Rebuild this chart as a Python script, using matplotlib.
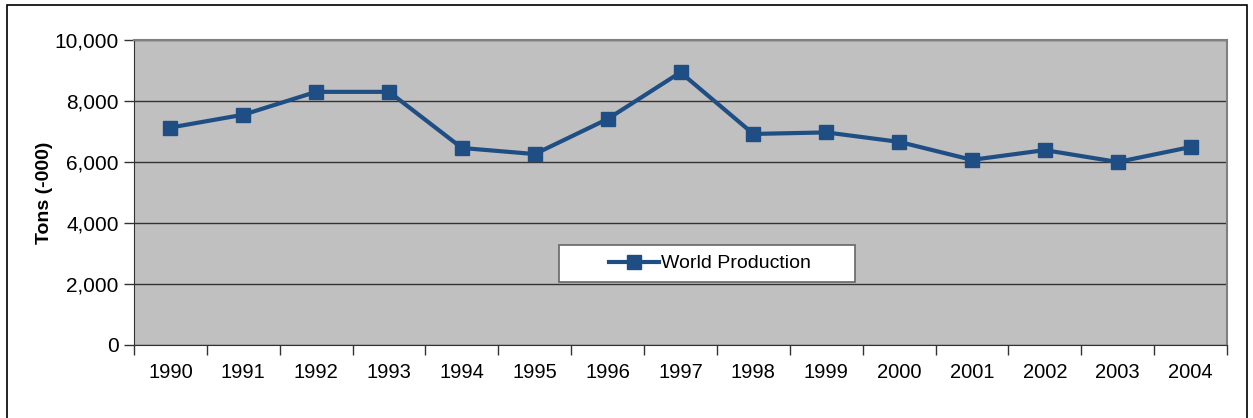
import matplotlib.pyplot as plt
from matplotlib.patches import Rectangle
from matplotlib.ticker import FuncFormatter, FixedLocator

plt.rcParams['font.family'] = ['Liberation Sans', 'DejaVu Sans']

# Données
years = ["1990", "1991", "1992", "1993", "1994", "1995", "1996", "1997",
         "1998", "1999", "2000", "2001", "2002", "2003", "2004"]
production = [7130, 7550, 8300, 8300, 6460, 6260, 7410, 8940,
              6920, 6970, 6660, 6070, 6390, 6000, 6490]

W, H = 1253, 418
fig = plt.figure(figsize=(W / 100, H / 100), dpi=100)
ax = fig.add_axes([134 / W, 1 - 345 / H, (1227 - 134) / W, (345 - 40) / H])

ax.set_facecolor('#C0C0C0')
x = list(range(len(years)))
ax.plot(x, production, color='#1F4E85', linewidth=3, marker='s',
        markersize=10, markerfacecolor='#1F4E85', markeredgecolor='#1F4E85',
        label='World Production', zorder=3)

ax.set_xlim(-0.5, len(years) - 0.5)
ax.set_ylim(0, 10000)
ax.set_yticks(range(0, 10001, 2000))
ax.yaxis.set_major_formatter(FuncFormatter(lambda v, p: f"{int(v):,}"))
ax.grid(axis='y', color='#333333', linewidth=1)
ax.set_axisbelow(True)

# Étiquettes au centre des catégories, graduations entre les catégories
ax.set_xticks(x)
ax.set_xticklabels(years)
ax.xaxis.set_minor_locator(FixedLocator([i - 0.5 for i in range(len(years) + 1)]))
ax.tick_params(axis='x', which='major', length=0, pad=13, labelsize=14.5)
ax.tick_params(axis='x', which='minor', length=7, width=1, color='#333333')
ax.tick_params(axis='y', length=7, width=1, color='#333333', labelsize=15, pad=4)

for side in ['top', 'right']:
    ax.spines[side].set_color('#808080')
    ax.spines[side].set_linewidth(1.5)
ax.spines['left'].set_color('#333333')
ax.spines['bottom'].set_color('#333333')

ax.set_ylabel("Tons (-000)", fontsize=14, fontweight='bold', labelpad=1)

# Cadre blanc de la légende
pw, ph = 1227 - 134, 345 - 40
bx0, bx1, by0, by1 = 559, 855, 245, 282
ax.add_patch(Rectangle(((bx0 - 134) / pw, (345 - by1) / ph), (bx1 - bx0) / pw, (by1 - by0) / ph,
                       transform=ax.transAxes, facecolor='white', edgecolor='#666666',
                       linewidth=1.2, zorder=4))
leg = ax.legend(loc='center',
                bbox_to_anchor=(((bx0 + bx1) / 2 - 134 + 3) / pw, (345 - (by0 + by1) / 2) / ph),
                frameon=False, fontsize=14, handlelength=2.6,
                borderaxespad=0, handletextpad=0.1)
leg.set_zorder(5)

# Cadre noir autour de la figure
fig.patches.append(Rectangle((7 / W, -0.1), (1247 - 7) / W, 1.1 - 5 / H,
                             transform=fig.transFigure, fill=False,
                             edgecolor='black', linewidth=1.2))

fig.savefig("out.png", dpi=100)
